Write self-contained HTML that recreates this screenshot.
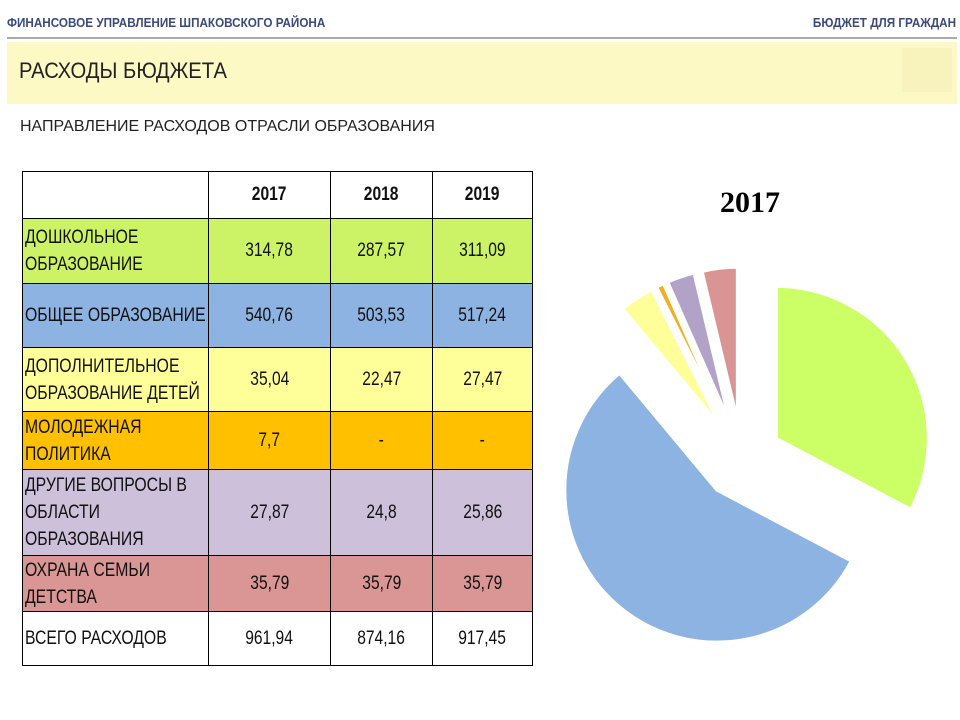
<!DOCTYPE html>
<html><head><meta charset="utf-8">
<style>
body{margin:0;width:960px;height:720px;background:#fff;position:relative;overflow:hidden;font-family:"Liberation Sans","DejaVu Sans",sans-serif;}
.a{position:absolute;}
.hdr{font-size:13px;color:#3a4a7a;top:15px;white-space:nowrap;font-weight:bold;}
.cell{position:absolute;box-sizing:border-box;border:1px solid #000;display:flex;align-items:center;font-size:19px;color:#111;white-space:nowrap;}
.num{justify-content:center;}
.num span{display:inline-block;transform:scaleX(0.82);}
.lbl{padding-left:2px;line-height:27px;}
.lbl span{display:inline-block;transform:scaleX(0.83);transform-origin:left center;}
.sq{display:inline-block;transform-origin:left center;}
</style></head><body>
<div class="a hdr" style="left:7px"><span class="sq" style="transform:scaleX(0.9)">ФИНАНСОВОЕ УПРАВЛЕНИЕ ШПАКОВСКОГО РАЙОНА</span></div>
<div class="a hdr" style="right:4px"><span class="sq" style="transform:scaleX(0.9);transform-origin:right center">БЮДЖЕТ ДЛЯ ГРАЖДАН</span></div>
<div class="a" style="left:7px;top:37px;width:950px;height:2px;background:#aaa"></div>
<div class="a" style="left:7px;top:42px;width:950px;height:62px;background:#fdf9c4">
 <div class="a" style="left:12px;top:16px;font-size:22px;color:#222;white-space:nowrap"><span class="sq" style="transform:scaleX(0.92)">РАСХОДЫ БЮДЖЕТА</span></div>
 <div class="a" style="left:895px;top:6px;width:50px;height:44px;background:#f8f2bc"></div>
</div>
<div class="a" style="left:20px;top:118px;font-size:16px;color:#222;white-space:nowrap"><span class="sq">НАПРАВЛЕНИЕ РАСХОДОВ ОТРАСЛИ ОБРАЗОВАНИЯ</span></div>
<div id="tbl"></div>
<div class="a" style="left:720px;top:186px;font-family:'Liberation Serif',serif;font-weight:bold;font-size:30px">2017</div>
<svg class="a" style="left:0;top:0" width="960" height="720" id="pie"></svg>
<script>
const rowsLabels=["ДОШКОЛЬНОЕ<br>ОБРАЗОВАНИЕ","ОБЩЕЕ ОБРАЗОВАНИЕ","ДОПОЛНИТЕЛЬНОЕ<br>ОБРАЗОВАНИЕ ДЕТЕЙ","МОЛОДЕЖНАЯ<br>ПОЛИТИКА","ДРУГИЕ ВОПРОСЫ В<br>ОБЛАСТИ<br>ОБРАЗОВАНИЯ","ОХРАНА СЕМЬИ<br>ДЕТСТВА","ВСЕГО РАСХОДОВ"];
const years=["2017","2018","2019"];
const v2017=["314,78","540,76","35,04","7,7","27,87","35,79","961,94"];
const v2018=["287,57","503,53","22,47","-","24,8","35,79","874,16"];
const v2019=["311,09","517,24","27,47","-","25,86","35,79","917,45"];
const pieValues=[314.78,540.76,35.04,7.7,27.87,35.79];
const rowColors=["#ccf266","#8db3e2","#ffff99","#ffc000","#ccc0da","#da9694","#fff"];
const pieColors=["#ccff66","#8db3e2","#ffff99","#f0b020","#b3a2c7","#d99594"];
const colX=[22,208,330,432,532], rowY=[171,218,283,347,411,469,555,611,665];
const T=document.getElementById('tbl');
function cell(x,y,w,h,html,cls,bg,name){const d=document.createElement('div');d.className='cell '+cls;
d.style.cssText=`left:${x}px;top:${y}px;width:${w+1}px;height:${h+1}px;background:${bg}`;d.innerHTML=html;


T.appendChild(d);}
cell(colX[0],rowY[0],colX[1]-colX[0],rowY[1]-rowY[0],'','num','#fff','header-blank');
years.forEach((y,i)=>cell(colX[i+1],rowY[0],colX[i+2]-colX[i+1],rowY[1]-rowY[0],'<span><b>'+y+'</b></span>','num','#fff','header-'+y));
const vals=[v2017,v2018,v2019];
rowsLabels.forEach((l,r)=>{const y=rowY[r+1],h=rowY[r+2]-y;
cell(colX[0],y,colX[1]-colX[0],h,'<span>'+l+'</span>','lbl',rowColors[r],'row-label-'+r);
vals.forEach((vs,c)=>cell(colX[c+1],y,colX[c+2]-colX[c+1],h,'<span>'+vs[r]+'</span>','num',rowColors[r],'value-'+years[c]+'-'+r));});
const S=document.getElementById('pie');const cx=742,cy=459,R=152,ex=40;
const tot=pieValues.reduce((a,b)=>a+b,0);let a0=0;
pieValues.forEach((v,i)=>{const a1=a0+v/tot*2*Math.PI;const m=(a0+a1)/2;
const ox=cx+ex*Math.sin(m),oy=cy-ex*Math.cos(m);
const p=a=>[ox+R*Math.sin(a),oy-R*Math.cos(a)];const s=p(a0),e=p(a1);
const pa=document.createElementNS('http://www.w3.org/2000/svg','path');
pa.setAttribute('d',`M${ox},${oy}L${s[0]},${s[1]}A${R},${R} 0 ${a1-a0>Math.PI?1:0} 1 ${e[0]},${e[1]}Z`);
pa.setAttribute('fill',pieColors[i]);pa.setAttribute('stroke','#fff');pa.setAttribute('stroke-width','3');


S.appendChild(pa);a0=a1;});
</script>
</body></html>
